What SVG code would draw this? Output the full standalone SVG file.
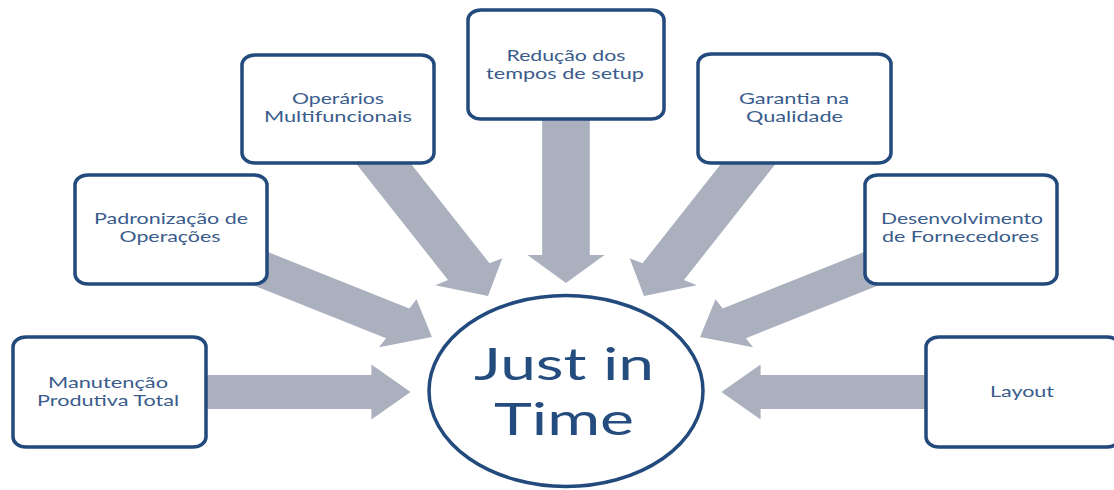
<svg xmlns="http://www.w3.org/2000/svg" width="1114" height="490" viewBox="0 0 1114 490">
  <style>
    .box { fill: #ffffff; stroke: #224A7C; stroke-width: 3.5; }
    .hub { fill: #ffffff; stroke: #224A7C; stroke-width: 3.5; }
    .arrow { fill: #AAB0BE; }
    .label { font-family: Lato, "Liberation Sans", sans-serif; font-size: 15px; fill: #3A5C8C; text-anchor: middle; }
    .title { font-family: Lato, "Liberation Sans", sans-serif; font-size: 45px; fill: #244C7E; text-anchor: middle; }
  </style>

  <!-- Block arrows, drawn in a horizontally stretched frame centred on x=566 -->
  <g id="connectors" transform="translate(566 0) scale(1.4 1)">
    <polygon class="arrow" transform="translate(-266 392)" points="0,-17 127,-17 127,-27.5 155,0 127,27.5 127,17 0,17"/>
    <polygon class="arrow" transform="translate(-226.7 263.8) rotate(29.2)" points="0,-17 122,-17 122,-27.5 150,0 122,27.5 122,17 0,17"/>
    <polygon class="arrow" transform="translate(-136.7 152.3) rotate(60.6)" points="0,-17 137,-17 137,-27.5 165,0 137,27.5 137,17 0,17"/>
    <polygon class="arrow" transform="translate(0 105) rotate(90)" points="0,-17 150,-17 150,-27.5 178,0 150,27.5 150,17 0,17"/>
    <polygon class="arrow" transform="translate(136.7 152.3) rotate(119.4)" points="0,-17 137,-17 137,-27.5 165,0 137,27.5 137,17 0,17"/>
    <polygon class="arrow" transform="translate(226.7 263.8) rotate(150.8)" points="0,-17 122,-17 122,-27.5 150,0 122,27.5 122,17 0,17"/>
    <polygon class="arrow" transform="translate(266 392) rotate(180)" points="0,-17 127,-17 127,-27.5 155,0 127,27.5 127,17 0,17"/>
  </g>

  <g id="node-manutencao">
    <rect class="box" x="13" y="337" width="193" height="110" rx="13" ry="10"/>
    <text class="label" x="108" y="388" textLength="120" lengthAdjust="spacingAndGlyphs">Manutenção</text>
    <text class="label" x="108" y="406" textLength="142" lengthAdjust="spacingAndGlyphs">Produtiva Total</text>
  </g>

  <g id="node-padronizacao">
    <rect class="box" x="75" y="175" width="192" height="109" rx="13" ry="10"/>
    <text class="label" x="171" y="224" textLength="154" lengthAdjust="spacingAndGlyphs">Padronização de</text>
    <text class="label" x="170" y="242" textLength="101" lengthAdjust="spacingAndGlyphs">Operações</text>
  </g>

  <g id="node-operarios">
    <rect class="box" x="242" y="55" width="192" height="108" rx="13" ry="10"/>
    <text class="label" x="338" y="104" textLength="92" lengthAdjust="spacingAndGlyphs">Operários</text>
    <text class="label" x="338" y="122" textLength="148" lengthAdjust="spacingAndGlyphs">Multifuncionais</text>
  </g>

  <g id="node-reducao">
    <rect class="box" x="468" y="10" width="196" height="109" rx="13" ry="10"/>
    <text class="label" x="566" y="61" textLength="119" lengthAdjust="spacingAndGlyphs">Redução dos</text>
    <text class="label" x="565" y="79" textLength="158" lengthAdjust="spacingAndGlyphs">tempos de setup</text>
  </g>

  <g id="node-garantia">
    <rect class="box" x="698" y="54" width="193" height="109" rx="13" ry="10"/>
    <text class="label" x="794" y="104" textLength="110" lengthAdjust="spacingAndGlyphs">Garantia na</text>
    <text class="label" x="794.5" y="122" textLength="97" lengthAdjust="spacingAndGlyphs">Qualidade</text>
  </g>

  <g id="node-desenvolvimento">
    <rect class="box" x="865" y="175" width="192" height="109" rx="13" ry="10"/>
    <text class="label" x="962" y="224" textLength="162" lengthAdjust="spacingAndGlyphs">Desenvolvimento</text>
    <text class="label" x="960.5" y="242" textLength="157" lengthAdjust="spacingAndGlyphs">de Fornecedores</text>
  </g>

  <g id="node-layout">
    <rect class="box" x="926" y="337" width="194" height="110" rx="13" ry="10"/>
    <text class="label" x="1022" y="397" textLength="64" lengthAdjust="spacingAndGlyphs">Layout</text>
  </g>

  <g id="node-jit">
    <ellipse class="hub" cx="566" cy="391" rx="137" ry="95.5"/>
    <text class="title" x="564" y="380" textLength="180" lengthAdjust="spacingAndGlyphs">Just in</text>
    <text class="title" x="564" y="435" textLength="140" lengthAdjust="spacingAndGlyphs">Time</text>
  </g>
</svg>
